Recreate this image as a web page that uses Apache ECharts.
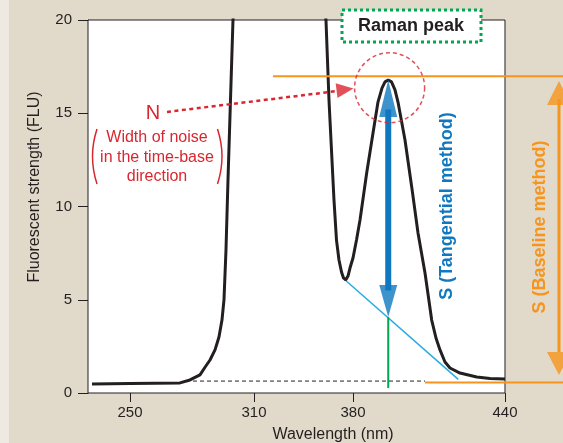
<!DOCTYPE html>
<html>
<head>
<meta charset="utf-8">
<script src="https://cdn.jsdelivr.net/npm/echarts@6/dist/echarts.min.js"></script>
<style>
html,body{margin:0;padding:0;background:#e1dacb;}
#c{width:563px;height:443px;}
</style>
</head>
<body>
<div id="c"></div>
<script>
// x axis is schematic (non-linear wavelength): positions in % of plot frame width
const xTickPos = [10.07, 39.81, 63.55, 100];
const xTickLabels = ['250', '310', '380', '440'];
const yMin = 0, yMax = 20, yInterval = 5;
const frameX = [0, 100];   // plotted frame (white area) in x units
const xMaxView = 113.91;   // room on the right for the baseline-method annotation

// Fluorescence spectrum (x position %, FLU)
const specX = [0.96, 10.07, 22.06, 24.46, 26.86, 28.06, 29.26, 30.46, 31.41, 32.13, 32.61, 33.09, 33.57, 34.17, 34.77, 40, 52,
  57.07, 57.79, 58.99, 59.59, 60.19, 60.79, 61.27, 61.80, 62.35, 62.83, 63.55, 64.39, 65.23, 66.83, 68.35, 69.54, 70.50, 71.22, 72.01,
  72.78, 73.62, 74.34, 76.02, 77.63, 79.14, 80.82, 82.42, 83.45, 84.41, 85.61, 86.81, 89.21, 93.21, 96.40, 100];
const specY = [0.48, 0.51, 0.54, 0.70, 0.97, 1.38, 1.77, 2.31, 3.00, 3.91, 4.99, 7.67, 11.42, 15.71, 20.0, 30, 30,
  20.0, 15.71, 10.35, 8.20, 7.13, 6.49, 6.17, 6.06, 6.27, 6.70, 7.24, 8.20, 9.28, 11.80, 13.94, 15.60, 16.35, 16.68, 16.78,
  16.68, 16.25, 15.60, 13.57, 11.05, 8.58, 6.43, 3.91, 2.95, 2.31, 1.66, 1.34, 1.07, 0.86, 0.78, 0.75];

// annotation geometry (data units)
const dashedBaseline = [[25.18, 0.64], [80.82, 0.64]];
const orangeTop = [[44.36, 16.98], [113.91, 16.98]];
const orangeBottom = [[80.82, 0.56], [113.91, 0.56]];
const orangeShaft = [[112.95, 15.76], [112.95, 2.2]];
const orangeTips = [[112.95, 16.73], [112.95, 0.97]];
const tangentLine = [[61.8, 6.03], [88.8, 0.73]];
const greenLine = [[72.0, 4.07], [72.0, 0.27]];
const blueShaft = [[72.0, 15.2], [72.0, 5.5]];
const blueTips = [[72.0, 16.78], [72.0, 4.07]];
const noiseCircle = [[72.33, 16.37]];
const noiseArrowLine = [[18.94, 15.07], [59.71, 16.19]];
const noiseArrowHead = [[61.63, 16.27]];

const spec = specX.map((x, i) => [x, specY[i]]);
const FONT = '"Liberation Sans", Arial, sans-serif';
const RED = '#d9262f', BLUE = '#0f78c0', ORANGE = '#f7941d', GREEN = '#00a651', CYAN = '#29abe2', INK = '#231f20';

function lineSeries(data, color, width, type, z) {
  return {type: 'line', data: data, symbol: 'none', clip: false, z: z || 2,
    lineStyle: {color: color, width: width, type: type || 'solid'}, silent: true};
}

const chart = echarts.init(document.getElementById('c'), null, {renderer: 'canvas'});
chart.setOption({
  animation: false,
  backgroundColor: '#e1dacb',
  grid: {left: 88, right: 0, top: 20, bottom: 50, show: false},
  xAxis: {
    type: 'value', min: 0, max: xMaxView,
    axisLine: {show: false},
    axisTick: {show: true, length: 9, customValues: xTickPos, lineStyle: {color: INK}},
    axisLabel: {show: true, customValues: xTickPos, margin: 12, color: INK, fontSize: 15, fontFamily: FONT,
      formatter: function (v) {
        let best = 0;
        xTickPos.forEach((p, i) => { if (Math.abs(p - v) < Math.abs(xTickPos[best] - v)) best = i; });
        return xTickLabels[best];
      }},
    splitLine: {show: false}
  },
  yAxis: {
    type: 'value', min: yMin, max: yMax, interval: yInterval,
    axisLine: {show: true, lineStyle: {color: INK, width: 1}},
    axisTick: {show: true, length: 10, lineStyle: {color: INK}},
    axisLabel: {margin: 16, color: INK, fontSize: 15, fontFamily: FONT},
    splitLine: {show: false}
  },
  series: [
    {type: 'line', data: [], z: 1, silent: true,
      markArea: {silent: true, z: 1, itemStyle: {color: '#ffffff', borderColor: INK, borderWidth: 1},
        data: [[{coord: [frameX[0], yMin]}, {coord: [frameX[1], yMax]}]]}},
    lineSeries(dashedBaseline, INK, 1, [4, 3], 2),
    lineSeries(tangentLine, CYAN, 1.5, 'solid', 2),
    lineSeries(greenLine, GREEN, 2, 'solid', 2),
    {type: 'line', data: spec, symbol: 'none', clip: true, z: 3, silent: true, lineStyle: {color: INK, width: 3}},
    lineSeries(orangeTop, ORANGE, 2, 'solid', 4),
    lineSeries(orangeBottom, ORANGE, 2, 'solid', 4),
    lineSeries(orangeShaft, ORANGE, 3, 'solid', 4),
    {type: 'scatter', clip: false, z: 4, silent: true, data: [
      {value: orangeTips[0], symbol: 'triangle', symbolSize: [24, 24], symbolOffset: [0, 12], itemStyle: {color: ORANGE}},
      {value: orangeTips[1], symbol: 'triangle', symbolSize: [24, 23], symbolRotate: 180, symbolOffset: [0, -11.5], itemStyle: {color: ORANGE}}
    ]},
    lineSeries(blueShaft, BLUE, 6, 'solid', 5),
    {type: 'scatter', clip: false, z: 5, silent: true, data: [
      {value: blueTips[0], symbol: 'triangle', symbolSize: [18, 37], symbolOffset: [0, 18.5], itemStyle: {color: BLUE}},
      {value: blueTips[1], symbol: 'triangle', symbolSize: [18, 32], symbolRotate: 180, symbolOffset: [0, -16], itemStyle: {color: BLUE}}
    ]},
    {type: 'scatter', clip: false, z: 6, silent: true, data: noiseCircle, symbol: 'circle', symbolSize: 70,
      itemStyle: {color: 'rgba(0,0,0,0)', borderColor: RED, borderWidth: 1.5, borderType: [4, 3]}},
    lineSeries(noiseArrowLine, RED, 2.5, [4, 3.5], 6),
    {type: 'scatter', clip: false, z: 6, silent: true, data: noiseArrowHead, symbol: 'triangle', symbolSize: [15, 17], symbolRotate: -83,
      itemStyle: {color: RED}}
  ],
  graphic: [
    {type: 'rect', left: 0, top: 0, shape: {x: 0, y: 0, width: 9, height: 443}, style: {fill: '#eeeae1'}, z: -10},
    {type: 'rect', shape: {x: 342, y: 10, width: 139, height: 32}, style: {fill: '#ffffff', stroke: GREEN, lineWidth: 3, lineDash: [3, 3]}, z: 50},
    {type: 'text', x: 411, y: 26, z: 51, style: {text: 'Raman peak', fill: INK, font: 'bold 18px ' + FONT, align: 'center', verticalAlign: 'middle'}},
    {type: 'text', x: 153, y: 113, z: 51, style: {text: 'N', fill: RED, font: '20px ' + FONT, align: 'center', verticalAlign: 'middle'}},
    {type: 'text', x: 157, y: 138, z: 51, style: {text: 'Width of noise', fill: RED, font: '16px ' + FONT, align: 'center', verticalAlign: 'middle'}},
    {type: 'text', x: 157, y: 157.5, z: 51, style: {text: 'in the time-base', fill: RED, font: '16px ' + FONT, align: 'center', verticalAlign: 'middle'}},
    {type: 'text', x: 157, y: 177, z: 51, style: {text: 'direction', fill: RED, font: '16px ' + FONT, align: 'center', verticalAlign: 'middle'}},
    {type: 'bezierCurve', z: 51, shape: {x1: 97, y1: 129, x2: 97, y2: 184, cpx1: 88, cpy1: 156.5}, style: {stroke: RED, lineWidth: 1.5, fill: null}},
    {type: 'bezierCurve', z: 51, shape: {x1: 217.5, y1: 129, x2: 217.5, y2: 184, cpx1: 226.5, cpy1: 156.5}, style: {stroke: RED, lineWidth: 1.5, fill: null}},
    {type: 'text', x: 447, y: 206, rotation: Math.PI / 2, z: 51, style: {text: 'S (Tangential method)', fill: BLUE, font: 'bold 18px ' + FONT, align: 'center', verticalAlign: 'middle'}},
    {type: 'text', x: 540, y: 227, rotation: Math.PI / 2, z: 51, style: {text: 'S (Baseline method)', fill: ORANGE, font: 'bold 18px ' + FONT, align: 'center', verticalAlign: 'middle'}},
    {type: 'text', x: 333, y: 435, z: 51, style: {text: 'Wavelength (nm)', fill: INK, font: '16px ' + FONT, align: 'center', verticalAlign: 'middle'}},
    {type: 'text', x: 35, y: 187, rotation: Math.PI / 2, z: 51, style: {text: 'Fluorescent strength (FLU)', fill: INK, font: '16px ' + FONT, align: 'center', verticalAlign: 'middle'}}
  ]
});
</script>
</body>
</html>
